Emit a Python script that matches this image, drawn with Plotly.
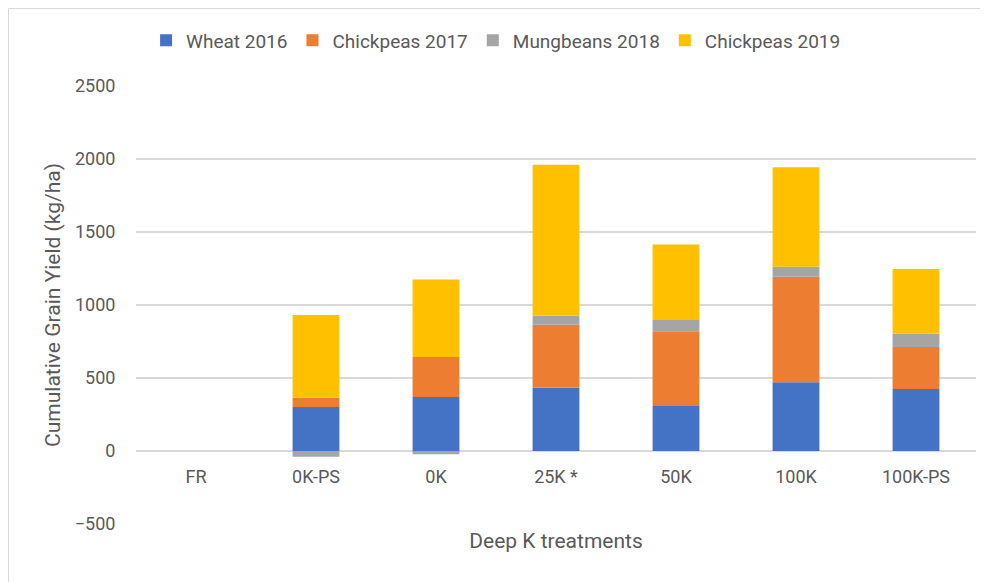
import plotly.graph_objects as go

categories = ["FR", "0K-PS", "0K", "25K *", "50K", "100K", "100K-PS"]
wheat_2016 = [None, 302, 370, 434, 309, 471, 425]
chickpeas_2017 = [None, 62, 273, 430, 512, 722, 288]
mungbeans_2018 = [None, -39, -22, 64, 77, 69, 91]
chickpeas_2019 = [None, 567, 531, 1032, 517, 681, 442]

series_names = ["Wheat 2016", "Chickpeas 2017", "Mungbeans 2018", "Chickpeas 2019"]
series_values = [wheat_2016, chickpeas_2017, mungbeans_2018, chickpeas_2019]
colors = ["#4472C4", "#ED7D31", "#A5A5A5", "#FFC000"]

y_ticks = [-500, 0, 500, 1000, 1500, 2000, 2500]

FONT = "Roboto, sans-serif"
GREY = "#595959"

fig = go.Figure()
for name, vals, c in zip(series_names, series_values, colors):
    fig.add_trace(go.Bar(x=categories, y=vals, name=name, marker_color=c,
                         marker_line_width=0))

L, R, T, B = 128, 20, 78, 66
W, H = 988, 582
pw, ph = W - L - R, H - T - B

fig.update_layout(
    barmode="relative",
    bargap=0.61,
    width=W, height=H,
    paper_bgcolor="white", plot_bgcolor="white",
    margin=dict(l=L, r=R, t=T, b=B, autoexpand=False),
    font=dict(family=FONT, color=GREY, size=18),
    legend=dict(orientation="h", x=0.012, xanchor="left", y=1.104, yanchor="middle",
                font=dict(size=19, color=GREY), traceorder="normal",
                bgcolor="rgba(0,0,0,0)", itemwidth=30),
    showlegend=True,
)
fig.update_yaxes(
    range=[-500, 2500], tickvals=y_ticks, showgrid=True, gridcolor="#D9D9D9",
    gridwidth=1.5, zeroline=False, showline=False,
    ticks="outside", ticklen=16, tickcolor="rgba(0,0,0,0)",
    tickfont=dict(size=18, color=GREY),
    title=dict(text="Cumulative Grain Yield (kg/ha)", font=dict(size=21, color=GREY),
               standoff=8),
)
fig.update_xaxes(
    anchor="free", position=500/3000, showline=False, showgrid=False,
    ticks="outside", ticklen=9, tickcolor="rgba(0,0,0,0)",
    tickfont=dict(size=18, color=GREY),
    title=dict(text="Deep K treatments", font=dict(size=21, color=GREY),
               standoff=47),
)
# chart-area border (Excel style), drawn along the figure's left and top edges
fig.add_shape(type="rect", xref="paper", yref="paper",
              x0=(-L + 0.5) / pw, x1=(pw + R + 5) / pw,
              y0=-(B + 5) / ph, y1=(ph + T - 0.5) / ph,
              line=dict(color="#D9D9D9", width=1), fillcolor="rgba(0,0,0,0)", layer="below")

fig.write_html("out.html")
